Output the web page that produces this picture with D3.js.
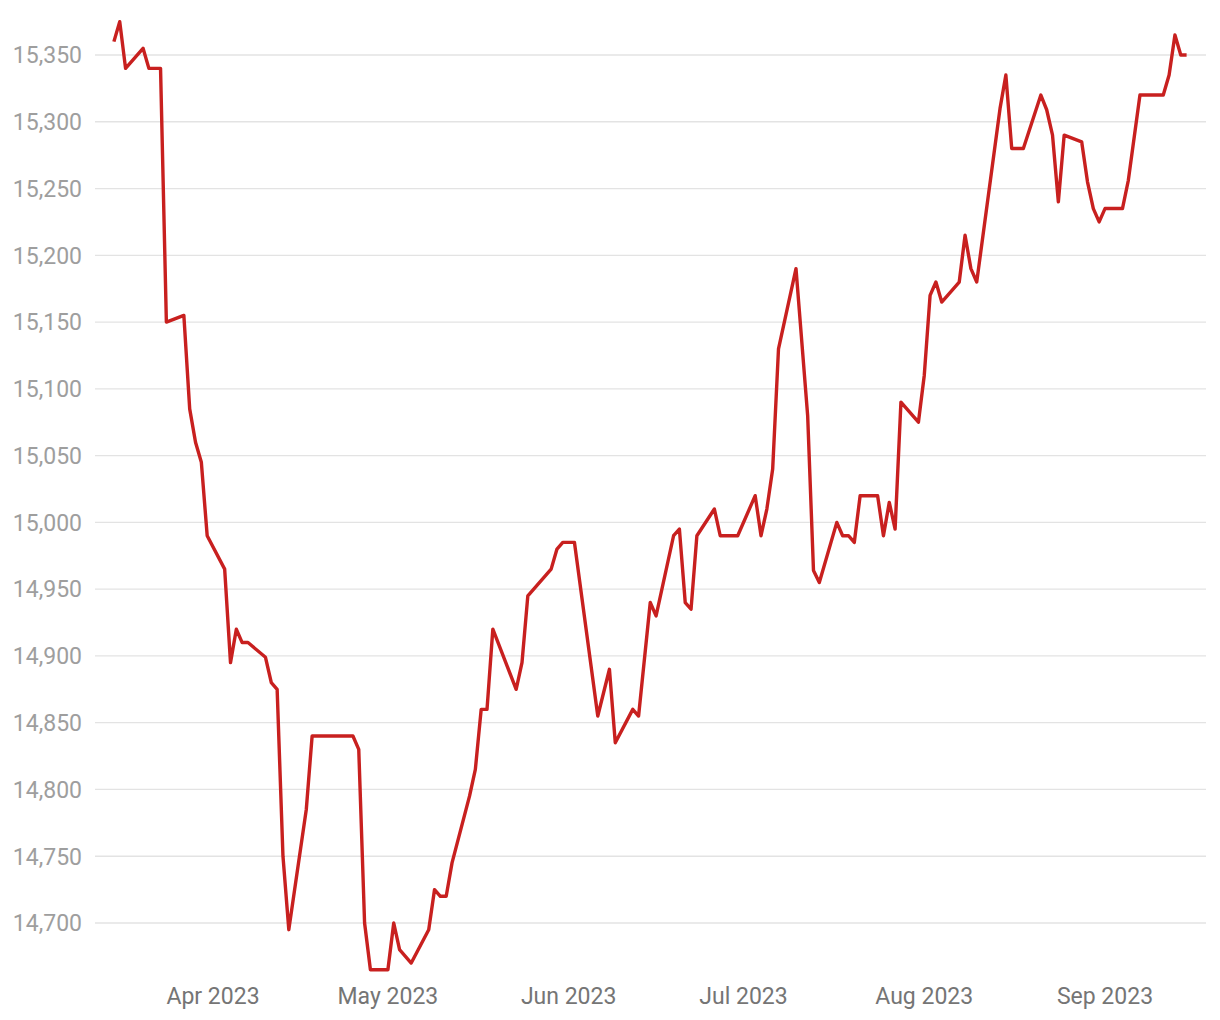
<!DOCTYPE html>
<html>
<head>
<meta charset="utf-8">
<script src="https://cdn.jsdelivr.net/npm/d3@7"></script>
<style>
html,body{margin:0;padding:0;background:#fff;}
svg text{font-family:Roboto,"Noto Sans",sans-serif;}
</style>
</head>
<body>
<svg id="chart" width="1220" height="1020"></svg>
<script>
const dates = ["2023-03-15","2023-03-16","2023-03-17","2023-03-20","2023-03-21","2023-03-23","2023-03-24",
"2023-03-27","2023-03-28","2023-03-29","2023-03-30","2023-03-31","2023-04-03","2023-04-04","2023-04-05",
"2023-04-06","2023-04-07","2023-04-10","2023-04-11","2023-04-12","2023-04-13","2023-04-14","2023-04-17",
"2023-04-18","2023-04-25","2023-04-26","2023-04-27","2023-04-28","2023-05-01","2023-05-02","2023-05-03",
"2023-05-05","2023-05-08","2023-05-09","2023-05-10","2023-05-11","2023-05-12","2023-05-15","2023-05-16",
"2023-05-17","2023-05-18","2023-05-19","2023-05-23","2023-05-24","2023-05-25","2023-05-29","2023-05-30",
"2023-05-31","2023-06-02","2023-06-06","2023-06-08","2023-06-09","2023-06-12","2023-06-13","2023-06-15",
"2023-06-16","2023-06-19","2023-06-20","2023-06-21","2023-06-22","2023-06-23","2023-06-26","2023-06-27",
"2023-06-30","2023-07-03","2023-07-04","2023-07-05","2023-07-06","2023-07-07","2023-07-10","2023-07-12",
"2023-07-13","2023-07-14","2023-07-17","2023-07-18","2023-07-19","2023-07-20","2023-07-21","2023-07-24",
"2023-07-25","2023-07-26","2023-07-27","2023-07-28","2023-07-31","2023-08-01","2023-08-02","2023-08-03",
"2023-08-04","2023-08-07","2023-08-08","2023-08-09","2023-08-10","2023-08-14","2023-08-15","2023-08-16",
"2023-08-18","2023-08-21","2023-08-22","2023-08-23","2023-08-24","2023-08-25","2023-08-28","2023-08-29",
"2023-08-30","2023-08-31","2023-09-01","2023-09-04","2023-09-05","2023-09-07","2023-09-11","2023-09-12",
"2023-09-13","2023-09-14","2023-09-15"];
const values = [15360,15375,15340,15355,15340,15340,15150,
15155,15085,15060,15045,14990,14965,14895,14920,
14910,14910,14899,14880,14875,14750,14695,14785,
14840,14840,14830,14700,14665,14665,14700,14680,
14670,14695,14725,14720,14720,14745,14795,14815,
14860,14860,14920,14875,14895,14945,14965,14980,
14985,14985,14855,14890,14835,14860,14855,14940,
14930,14990,14995,14940,14935,14990,15010,14990,
14990,15020,14990,15010,15040,15130,15190,15080,
14964,14955,15000,14990,14990,14985,15020,15020,
14990,15015,14995,15090,15075,15110,15170,15180,
15165,15180,15215,15190,15180,15310,15335,15280,
15280,15320,15309,15290,15240,15290,15285,15255,
15235,15225,15235,15235,15256,15320,15320,15335,
15365,15350,15350];
const yTicks = [14700,14750,14800,14850,14900,14950,15000,15050,15100,15150,15200,15250,15300,15350];
const xTickLabels = ["Apr 2023","May 2023","Jun 2023","Jul 2023","Aug 2023","Sep 2023"];
const xTickDates = ["2023-04-01","2023-05-01","2023-06-01","2023-07-01","2023-08-01","2023-09-01"];

const parse = d3.timeParse("%Y-%m-%d");
const data = dates.map((d,i)=>({date:parse(d), value:values[i]}));

const svg = d3.select("#chart");
const x = d3.scaleTime().domain([parse("2023-03-15"), parse("2023-09-15")]).range([113.9, 1186.6]);
const y = d3.scaleLinear().domain([14700, 15350]).range([923, 55]);
const gridLeft = 95, gridRight = 1206;

// grid + y labels
const yAxis = svg.append("g").attr("class","y-axis");
yAxis.selectAll("line").data(yTicks).join("line")
  .attr("x1", gridLeft).attr("x2", gridRight)
  .attr("y1", d=>y(d)).attr("y2", d=>y(d))
  .attr("stroke", "#e3e3e3").attr("stroke-width", 1.3);
yAxis.selectAll("text").data(yTicks).join("text")
  .attr("x", 82).attr("y", d=>y(d)).attr("dy","0.36em")
  .attr("text-anchor","end").attr("fill","#9e9e9e")
  .attr("font-size", 23).text(d=>d3.format(",")(d));

// x labels
const xAxis = svg.append("g").attr("class","x-axis");
xAxis.selectAll("text").data(xTickDates).join("text")
  .attr("x", d=>x(parse(d))).attr("y", 1004)
  .attr("text-anchor","middle").attr("fill","#757575")
  .attr("font-size", 23).text((d,i)=>xTickLabels[i]);

// line
const line = d3.line().x(d=>x(d.date)).y(d=>y(d.value));
svg.append("path").datum(data)
  .attr("d", line).attr("fill","none")
  .attr("stroke","#c8201f").attr("stroke-width",3.4)
  .attr("stroke-linejoin","round");
</script>
</body>
</html>
